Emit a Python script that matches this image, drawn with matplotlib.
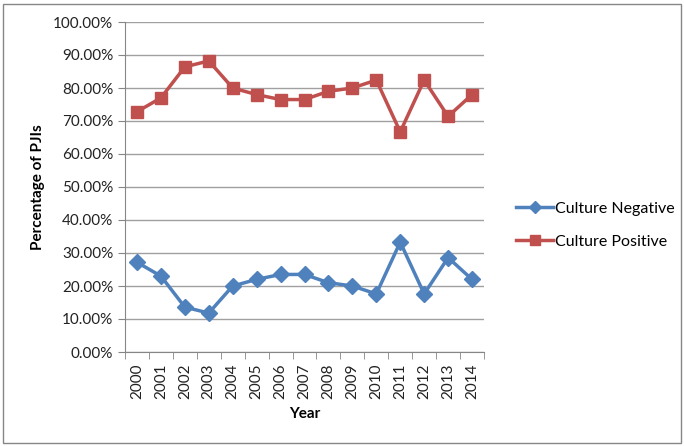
import numpy as np
import matplotlib.pyplot as plt
from matplotlib.patches import Rectangle
from matplotlib.ticker import FuncFormatter, FixedLocator

plt.rcParams['font.family'] = ['Lato', 'DejaVu Sans']

# Data
years = [str(y) for y in range(2000, 2015)]
culture_negative = [27.2, 23.0, 13.6, 11.8, 20.0, 22.0, 23.5, 23.5, 21.0, 20.0, 17.6, 33.3, 17.6, 28.6, 22.0]
culture_positive = [72.8, 77.0, 86.4, 88.2, 80.0, 78.0, 76.5, 76.5, 79.0, 80.0, 82.4, 66.7, 82.4, 71.4, 78.0]

blue = '#4F81BD'
red = '#C0504D'

fig = plt.figure(figsize=(6.84, 4.46), dpi=100)
ax = fig.add_axes([125 / 684, 1 - 352 / 446, (484 - 125) / 684, (352 - 22) / 446])

x = np.arange(len(years))
ax.plot(x, culture_negative, color=blue, lw=2.5, marker='D', ms=8,
        mfc=blue, mec=blue, label='Culture Negative')
ax.plot(x, culture_positive, color=red, lw=2.5, marker='s', ms=9,
        mfc=red, mec=red, label='Culture Positive')

ax.set_xlim(-0.5, len(years) - 0.5)
ax.set_ylim(0, 100)
ax.set_yticks(np.arange(0, 101, 10))
ax.yaxis.set_major_formatter(FuncFormatter(lambda v, p: f'{v:.2f}%'))
ax.grid(axis='y', color='#A0A0A0', lw=1)
ax.set_axisbelow(True)

ax.set_xticks(x)
ax.set_xticklabels(years, rotation=90)
ax.tick_params(axis='x', which='major', length=0, pad=8)
ax.xaxis.set_minor_locator(FixedLocator(np.arange(-0.5, len(years), 1)))
ax.tick_params(axis='x', which='minor', length=5, color='#868686', direction='out')
ax.tick_params(axis='y', length=5, color='#868686', direction='out')
ax.tick_params(labelsize=11, labelcolor='#222222')

for s in ['top', 'right']:
    ax.spines[s].set_visible(False)
for s in ['left', 'bottom']:
    ax.spines[s].set_color('#868686')

ax.set_xlabel('Year', fontsize=11, fontweight='bold', labelpad=6)
ax.set_ylabel('Percentage of PJIs', fontsize=11, fontweight='bold', labelpad=6)

fig.legend(loc='upper left', bbox_to_anchor=(502 / 684, 1 - 187 / 446),
           frameon=False, fontsize=11.5, handlelength=2.3, handletextpad=0.1,
           labelspacing=1.2, markerscale=0.8)

fig.patches.append(Rectangle((3 / 684, 3 / 446), 678 / 684, 439 / 446,
                             transform=fig.transFigure, fill=False,
                             edgecolor='#868686', lw=1))

fig.savefig('out.png', dpi=100)
